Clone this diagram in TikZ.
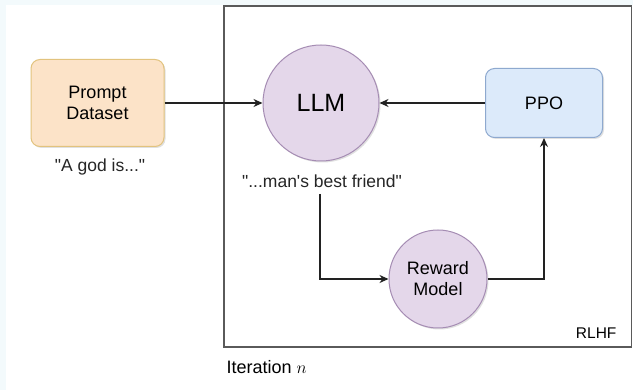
\documentclass[tikz,border=0pt]{standalone}
\usepackage{fontspec}
\setmainfont{Liberation Sans}[Ligatures=TeXOff]
\usetikzlibrary{arrows.meta,shadows}
\definecolor{bgcyan}{HTML}{F3FAFC}
\definecolor{orfill}{HTML}{FCE3C8}
\definecolor{ordraw}{HTML}{E2C37E}
\definecolor{pufill}{HTML}{E4D7EA}
\definecolor{pudraw}{HTML}{A58CB3}
\definecolor{blfill}{HTML}{DCEAFA}
\definecolor{bldraw}{HTML}{8EA9CF}
\definecolor{linec}{HTML}{222222}
\definecolor{framec}{HTML}{5A5A5A}
\tikzset{
  x=1pt, y=-1pt,
  nshadow/.style={drop shadow={shadow xshift=1.5pt, shadow yshift=-1.5pt, fill=black, opacity=0.12}},
  promptbox/.style={draw=ordraw, fill=orfill, line width=1pt, rounded corners=9pt, minimum width=133pt, minimum height=87pt, align=center, font=\fontsize{18}{21}\selectfont, nshadow},
  ppobox/.style={draw=bldraw, fill=blfill, line width=1pt, rounded corners=9pt, minimum width=117pt, minimum height=69pt, align=center, font=\fontsize{18}{21}\selectfont, nshadow},
  llmcirc/.style={circle, draw=pudraw, fill=pufill, line width=1pt, minimum size=116pt, inner sep=0pt, align=center, font=\fontsize{25}{28}\selectfont, nshadow},
  rmcirc/.style={circle, draw=pudraw, fill=pufill, line width=1pt, minimum size=98pt, inner sep=0pt, align=center, font=\fontsize{18}{21}\selectfont, nshadow},
  lbl/.style={font=\fontsize{17.5}{20}\selectfont, text=black!85},
  conn/.style={draw=linec, line width=1.4pt, -{Stealth[length=9pt,width=8pt]}},
}
\begin{document}
\begin{tikzpicture}
\useasboundingbox (0,0) rectangle (633,390);
\fill[bgcyan] (0,0) rectangle (633,390);
\fill[white] (6,5) rectangle (633,390);
% frame
\draw[framec, line width=1.4pt] (224,6) rectangle (631.5,347);
\node[font=\fontsize{15.5}{18}\selectfont, anchor=east] (rlhf) at (620,333) {RLHF};
\node[font=\fontsize{18}{21}\selectfont, anchor=west] (iter) at (223,367) {Iteration $n$};
% nodes
\node[promptbox] (prompt) at (97.5,103) {Prompt\\Dataset};
\node[llmcirc] (llm) at (321,103) {LLM};
\node[ppobox] (ppo) at (544,103) {PPO};
\node[rmcirc] (rm) at (438,279) {Reward\\Model};
\node[lbl] (god) at (100,167) {"A god is..."};
\node[lbl] (friend) at (322,181) {"...man's best friend"};
% connectors
\draw[conn] ([xshift=-2pt,yshift=-3pt]friend.south) |- (rm.west);
\draw[conn] (prompt) -- (llm);
\draw[conn] (ppo) -- (llm);
\draw[conn] (rm.east) -| (ppo.south);
\end{tikzpicture}
\end{document}
